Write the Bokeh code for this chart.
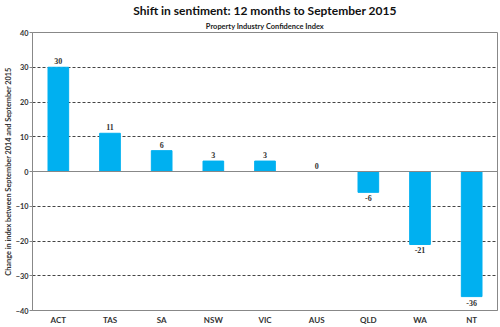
from bokeh.plotting import figure
from bokeh.models import ColumnDataSource, Title, FixedTicker, LabelSet, Span
from bokeh.embed import file_html
from bokeh.resources import INLINE

categories = ["ACT", "TAS", "SA", "NSW", "VIC", "AUS", "QLD", "WA", "NT"]
values = [30, 11, 6, 3, 3, 0, -6, -21, -36]
y_ticks = [-40, -30, -20, -10, 0, 10, 20, 30, 40]

FONT = "Lato"

pos_x = [c for c, v in zip(categories, values) if v >= 0]
pos_v = [v for v in values if v >= 0]
neg_x = [c for c, v in zip(categories, values) if v < 0]
neg_v = [v for v in values if v < 0]

src = ColumnDataSource(dict(x=categories, top=values))
src_pos = ColumnDataSource(dict(x=pos_x, y=pos_v, t=[str(v) for v in pos_v]))
src_neg = ColumnDataSource(dict(x=neg_x, y=neg_v, t=[str(v) for v in neg_v]))

p = figure(x_range=categories, y_range=(-40, 40), width=500, height=327,
           output_backend="svg", toolbar_location=None,
           min_border_left=3, min_border_right=3, min_border_bottom=3,
           min_border_top=4)

p.add_layout(Title(text="Property Industry Confidence Index", align="center",
                   text_font=FONT, text_font_size="5.6pt", text_font_style="bold",
                   text_color="#222222", standoff=4), "above")
p.add_layout(Title(text="Shift in sentiment: 12 months to September 2015", align="center",
                   text_font=FONT, text_font_size="9pt", text_font_style="bold",
                   text_color="#111111", standoff=0), "above")

p.vbar(x="x", top="top", bottom=0, width=0.4, source=src, color="#00B0F0")

p.add_layout(Span(location=0, dimension="width", line_color="#888888", line_width=1))

p.add_layout(LabelSet(x="x", y="y", text="t", source=src_pos, text_align="center",
                      text_baseline="bottom", y_offset=3, text_font_size="6pt",
                      text_font=FONT, text_font_style="bold", text_color="#333333"))
p.add_layout(LabelSet(x="x", y="y", text="t", source=src_neg, text_align="center",
                      text_baseline="top", y_offset=-3, text_font_size="6pt",
                      text_font=FONT, text_font_style="bold", text_color="#333333"))

p.yaxis.ticker = FixedTicker(ticks=y_ticks)
p.yaxis.axis_label = "Change in index between September 2014 and September 2015"
p.yaxis.axis_label_text_font = FONT
p.yaxis.axis_label_text_font_size = "5.5pt"
p.yaxis.axis_label_text_font_style = "bold"
p.yaxis.axis_label_text_color = "#333333"
p.yaxis.axis_label_standoff = 0
p.yaxis.major_label_text_font = FONT
p.yaxis.major_label_text_font_size = "5.5pt"
p.yaxis.major_label_text_font_style = "bold"
p.yaxis.major_label_text_color = "#333333"
p.yaxis.axis_line_color = "#888888"
p.yaxis.major_tick_line_color = "#888888"
p.yaxis.major_tick_out = 3
p.yaxis.major_tick_in = 0
p.yaxis.minor_tick_line_color = None
p.yaxis.major_label_standoff = 1

p.xaxis.major_label_text_font = FONT
p.xaxis.major_label_text_font_size = "6pt"
p.xaxis.major_label_text_font_style = "bold"
p.xaxis.major_label_text_color = "#333333"
p.xaxis.axis_line_color = "#888888"
p.xaxis.major_tick_line_color = None
p.xaxis.major_tick_out = 0
p.xaxis.major_label_standoff = 4

p.xgrid.grid_line_color = None
p.ygrid.ticker = FixedTicker(ticks=[-30, -20, -10, 10, 20, 30])
p.ygrid.grid_line_color = "#444444"
p.ygrid.grid_line_dash = "3 2"
p.ygrid.grid_line_width = 1

p.outline_line_color = "#888888"
p.outline_line_width = 1
p.background_fill_color = "white"
p.border_fill_color = "white"

open("out.html", "w").write(file_html(p, INLINE))
